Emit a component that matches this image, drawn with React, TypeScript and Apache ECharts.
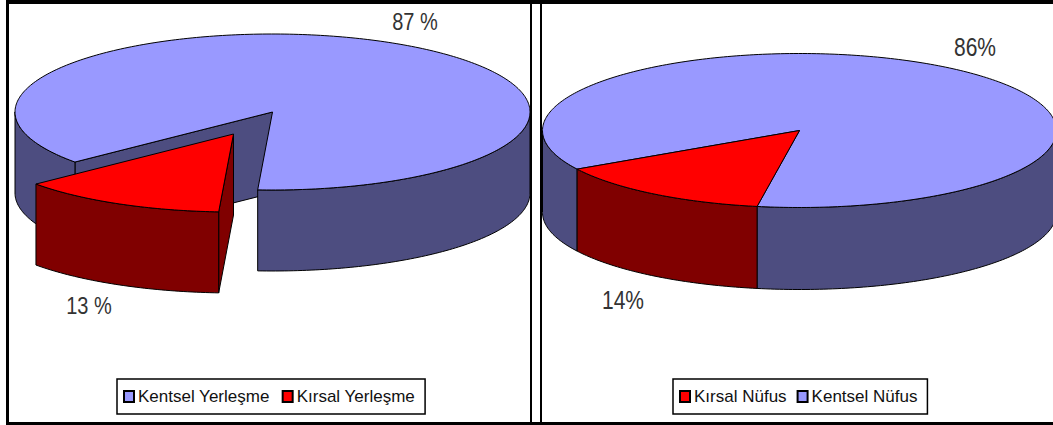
import React, { useEffect, useRef } from "react";
import * as echarts from "echarts";

const settlementNames = ["Kentsel Yerleşme", "Kırsal Yerleşme"];
const settlementValues = [87, 13];
const populationNames = ["Kırsal Nüfus", "Kentsel Nüfus"];
const populationValues = [14, 86];

const BLUE = { top: "#9999FF", side: "#4D4D80" };
const RED = { top: "#FF0000", side: "#800000" };
const FONT = '"Liberation Sans", Arial, sans-serif';

const leftPie = { cx: 272.5, cy: 112, rx: 257.5, ry: 78, depth: 81, redStart: 93.3, shift: [-39, 22], labelFont: 20 };
const rightPie = { cx: 799.5, cy: 130.5, rx: 257, ry: 77, depth: 82, redStart: 99.5, shift: [0, 0], labelFont: 21 };

type Pie = typeof leftPie;
const rad = (d: number) => (d * Math.PI) / 180;

function arcPoints(p: Pie, from: number, to: number, ox: number, oy: number) {
  const pts: number[][] = [];
  const n = Math.max(1, Math.ceil(Math.abs(to - from)));
  for (let i = 0; i <= n; i++) {
    const t = rad(from + ((to - from) * i) / n);
    pts.push([p.cx + ox + p.rx * Math.cos(t), p.cy + oy + p.ry * Math.sin(t)]);
  }
  return pts;
}

function sliceChildren(p: Pie, from: number, to: number, ox: number, oy: number, c: { top: string; side: string }) {
  const style = (fill: string) => ({ fill, stroke: "#000", lineWidth: 1 });
  const poly = (points: number[][], fill: string) => ({ type: "polygon", shape: { points }, style: style(fill) });
  const down = (pts: number[][]) => pts.map(([x, y]) => [x, y + p.depth]).reverse();
  const kids: any[] = [];
  const centre = [p.cx + ox, p.cy + oy];
  const wall = (t: number) => {
    const rim = arcPoints(p, t, t, ox, oy)[0];
    const q = [centre, rim];
    return poly([...q, ...down(q)], c.side);
  };
  if (p.shift[0] !== 0) {
    if (-Math.cos(rad(from)) > 0) kids.push(wall(from));
    if (Math.cos(rad(to)) > 0) kids.push(wall(to));
  }
  for (const base of [-360, 0, 360]) {
    const a = Math.max(from, base);
    const b = Math.min(to, base + 180);
    if (b > a) {
      const rim = arcPoints(p, a, b, ox, oy);
      kids.push(poly([...rim, ...down(rim)], c.side));
    }
  }
  kids.push(poly([centre, ...arcPoints(p, from, to, ox, oy)], c.top));
  return kids;
}

function sliceSeries(name: string, value: number, redValue: number, p: Pie, isRed: boolean, labelText: string, lx: number, ly: number) {
  const redEnd = p.redStart + (redValue / 100) * 360;
  const from = isRed ? p.redStart : redEnd;
  const to = isRed ? redEnd : p.redStart + 360;
  const c = isRed ? RED : BLUE;
  return {
    type: "custom",
    name,
    coordinateSystem: "none",
    silent: true,
    itemStyle: { color: c.top, borderColor: "#000", borderWidth: 1 },
    data: [[value]],
    renderItem: () => ({
      type: "group",
      children: [
        ...sliceChildren(p, from, to, isRed ? p.shift[0] : 0, isRed ? p.shift[1] : 0, c),
        {
          type: "text",
          x: lx,
          y: ly,
          scaleY: 1.22,
          style: { x: 0, y: 0, text: labelText, fill: "#333", font: `${p.labelFont}px ${FONT}`, align: "center", verticalAlign: "middle" },
        },
      ],
    }),
  };
}

function legendFor(names: string[], left: number, gap: number, right: number) {
  return {
    data: names,
    left,
    top: 379,
    orient: "horizontal",
    selectedMode: false,
    icon: "rect",
    itemWidth: 10,
    itemHeight: 11,
    itemGap: gap,
    padding: [9, right, 9, 6],
    backgroundColor: "#fff",
    borderColor: "#000",
    borderWidth: 1.5,
    textStyle: { fontFamily: FONT, fontSize: 17, color: "#111", padding: [0, 0, 0, -1] },
  };
}

const band = (x: number, y: number, width: number, height: number) => ({
  type: "rect",
  shape: { x, y, width, height },
  style: { fill: "#000" },
});

export default function App() {
  const ref = useRef<HTMLDivElement>(null);
  useEffect(() => {
    document.body.style.margin = "0";
    const chart = echarts.init(ref.current!, null, { renderer: "svg" });
    chart.setOption({
      animation: false,
      backgroundColor: "#fff",
      legend: [legendFor(settlementNames, 117, 12, 10), legendFor(populationNames, 673, 10, 10)],
      graphic: {
        elements: [
          band(6, 0, 1047, 4),
          band(6, 0, 3, 425),
          band(6, 422, 1047, 3),
          band(530, 0, 2, 425),
          band(540, 0, 2, 425),
        ],
      },
      series: [
        sliceSeries(settlementNames[0], settlementValues[0], settlementValues[1], leftPie, false, `${settlementValues[0]} %`, 415, 22),
        sliceSeries(settlementNames[1], settlementValues[1], settlementValues[1], leftPie, true, `${settlementValues[1]} %`, 89, 306),
        sliceSeries(populationNames[1], populationValues[1], populationValues[0], rightPie, false, `${populationValues[1]}%`, 975, 47),
        sliceSeries(populationNames[0], populationValues[0], populationValues[0], rightPie, true, `${populationValues[0]}%`, 623, 300),
      ],
    });
    return () => chart.dispose();
  }, []);
  return <div ref={ref} style={{ width: 1053, height: 425 }} />;
}
